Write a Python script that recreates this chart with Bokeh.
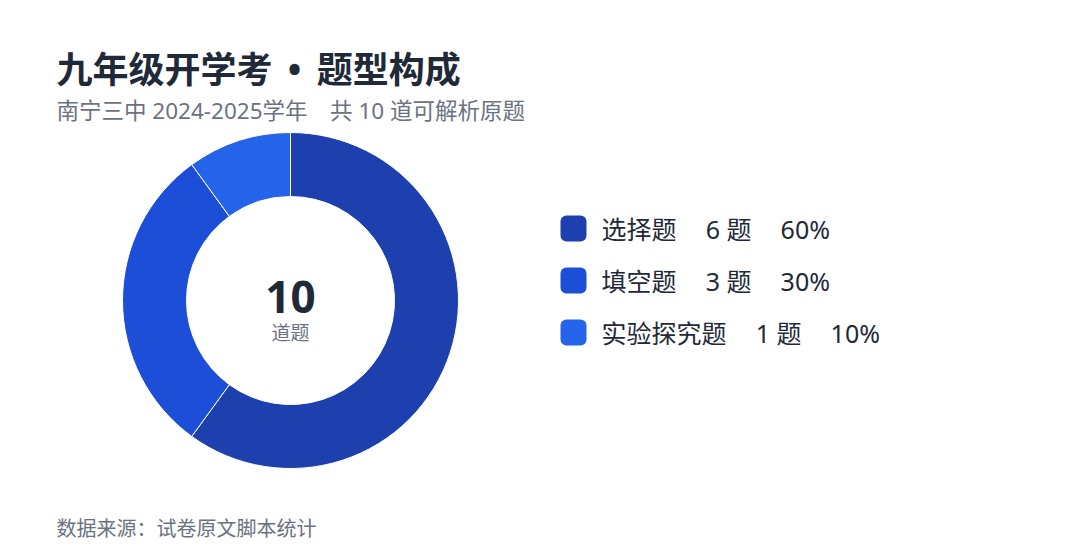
import math
from bokeh.plotting import figure
from bokeh.models import Range1d, ColumnDataSource
from bokeh.core.properties import value
from bokeh.embed import file_html
from bokeh.resources import INLINE

# ---- data ----
categories = ["选择题", "填空题", "实验探究题"]
counts = [6, 3, 1]
colors = ["#1e40af", "#1d4ed8", "#2563eb"]
title_text = "九年级开学考 \u2009•\u2009 题型构成"
subtitle_text = "南宁三中 2024-2025学年　共 10 道可解析原题"
footer_text = "数据来源：试卷原文脚本统计"
center_label = "道题"

W, H = 1064, 544
FONT = value("'Noto Sans', 'Noto Sans CJK SC', sans-serif")

def X(px):
    return px

def Y(py):
    return H - py

p = figure(width=W, height=H, output_backend="svg", toolbar_location=None,
           x_range=Range1d(0, W), y_range=Range1d(0, H), min_border=0)
p.axis.visible = False
p.grid.visible = False
p.outline_line_color = None
p.background_fill_color = "white"
p.border_fill_color = "white"

total = sum(counts)
starts, ends = [], []
acc = 0.0
for c in counts:
    a0 = math.pi / 2 - 2 * math.pi * acc / total
    acc += c
    a1 = math.pi / 2 - 2 * math.pi * acc / total
    starts.append(a0)
    ends.append(a1)

cx, cy = X(290), Y(300)
src = ColumnDataSource(dict(start=starts, end=ends, color=colors))
p.annular_wedge(x=cx, y=cy, inner_radius=104, outer_radius=168,
                inner_radius_units="screen", outer_radius_units="screen",
                start_angle="start", end_angle="end", direction="clock",
                fill_color="color", line_color="white", line_width=1, source=src)

# center text
p.text(x=[cx], y=[Y(296)], text=[str(total)], text_font=FONT, text_font_size="44px",
       text_font_style="bold", text_color="#1f2937", text_align="center", text_baseline="middle")
p.text(x=[cx], y=[Y(332)], text=[center_label], text_font=FONT, text_font_size="19px",
       text_color="#6b7280", text_align="center", text_baseline="middle")

# title / subtitle / footer
p.text(x=[X(56)], y=[Y(69)], text=[title_text], text_font=FONT, text_font_size="36px",
       text_font_style="bold", text_color="#1f2937", text_align="left", text_baseline="middle")
p.text(x=[X(56)], y=[Y(110)], text=[subtitle_text], text_font=FONT, text_font_size="22.5px",
       text_color="#6b7280", text_align="left", text_baseline="middle")
p.text(x=[X(56)], y=[Y(528)], text=[footer_text], text_font=FONT, text_font_size="20px",
       text_color="#6b7280", text_align="left", text_baseline="middle")

# legend
row_y = [Y(228), Y(280), Y(332)]
labels = [f"{cat}\u3000\u2009{n} 题\u3000\u2009{round(100 * n / total)}%"
          for cat, n in zip(categories, counts)]
sq = 26
p.quad(left=[X(560)] * 3, right=[X(560) + sq] * 3,
       bottom=[y - sq / 2 for y in row_y], top=[y + sq / 2 for y in row_y],
       fill_color=colors, line_color=None, border_radius=6)
p.text(x=[X(601)] * 3, y=row_y, text=labels, text_font=FONT, text_font_size="25px",
       text_color="#1f2937", text_align="left", text_baseline="middle")

open("out.html", "w").write(file_html(p, INLINE))
